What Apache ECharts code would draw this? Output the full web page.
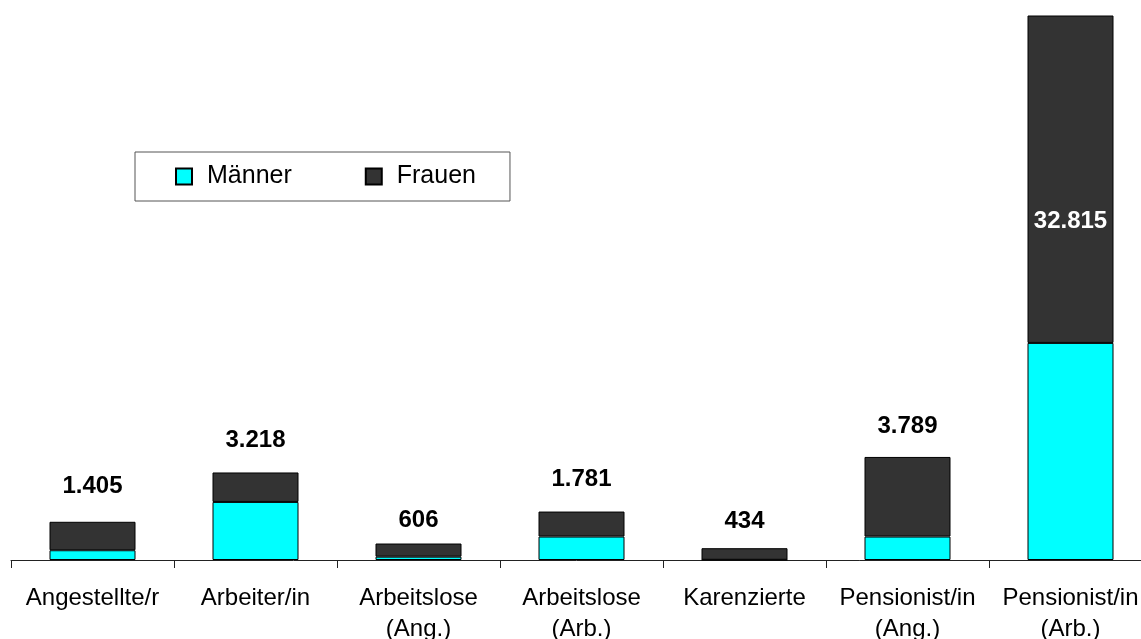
<!DOCTYPE html>
<html>
<head>
<meta charset="utf-8">
<script src="https://cdn.jsdelivr.net/npm/echarts@6/dist/echarts.min.js"></script>
<style>
  *{ margin:0; padding:0; }
  body{ background:#fff; }
</style>
</head>
<body>
<div id="main" style="width:1141px;height:639px;"></div>
<script type="text/javascript">
var categories = ['Angestellte/r', 'Arbeiter/in', 'Arbeitslose\n(Ang.)', 'Arbeitslose\n(Arb.)', 'Karenzierte', 'Pensionist/in\n(Ang.)', 'Pensionist/in\n(Arb.)'];
var maenner = [359, 2135, 122, 862, 8, 862, 7981];
var frauen = [1046, 1083, 484, 919, 426, 2927, 24834];
var totals = ['1.405', '3.218', '606', '1.781', '434', '3.789', '32.815'];

var font = '"Liberation Sans", Arial, sans-serif';
// gap between bar top and total label, as placed in the original
var labelGap = [23, 20, 11, 20, 15, 19];

// Frauen segment carries the total label; last bar is clipped, so its label goes inside
var frauenData = frauen.map(function (v, i) {
    if (i === categories.length - 1) {
        return {
            value: v,
            label: { position: 'inside', offset: [0, 42], color: '#fff' }
        };
    }
    return { value: v, label: { distance: labelGap[i] } };
});

var myChart = echarts.init(document.getElementById('main'));
myChart.setOption({
    animation: false,
    textStyle: { fontFamily: font },
    legend: {
        left: 135,
        top: 152,
        padding: [12, 34, 12, 40],
        itemGap: 73,
        itemWidth: 16,
        itemHeight: 16,
        borderColor: '#555',
        borderWidth: 1,
        icon: 'rect',
        textStyle: { fontSize: 25, color: '#000', fontFamily: font, padding: [0, 0, 0, 10] },
        data: ['Männer', 'Frauen']
    },
    grid: { left: 11, width: 1141, top: 16, bottom: 79, containLabel: false, outerBoundsMode: 'none' },
    xAxis: {
        type: 'category',
        data: categories,
        axisLine: { show: true, lineStyle: { color: '#222', width: 1 } },
        axisTick: { show: true, length: 8, lineStyle: { color: '#222' } },
        axisLabel: { fontSize: 24, color: '#000', lineHeight: 31, margin: 23, interval: 0, fontFamily: font }
    },
    yAxis: {
        type: 'value',
        min: 0,
        max: 20000,
        show: false,
        splitLine: { show: false }
    },
    series: [
        {
            name: 'Männer',
            type: 'bar',
            stack: 'sum',
            barWidth: 86,
            clip: true,
            itemStyle: { color: '#00FFFF', borderColor: '#000', borderWidth: 1 },
            data: maenner
        },
        {
            name: 'Frauen',
            type: 'bar',
            stack: 'sum',
            barWidth: 86,
            clip: true,
            itemStyle: { color: '#333333', borderColor: '#000', borderWidth: 1 },
            label: {
                show: true,
                position: 'top',
                fontSize: 24,
                fontWeight: 'bold',
                color: '#000',
                fontFamily: font,
                formatter: function (p) { return totals[p.dataIndex]; }
            },
            data: frauenData
        }
    ]
});
</script>
</body>
</html>
